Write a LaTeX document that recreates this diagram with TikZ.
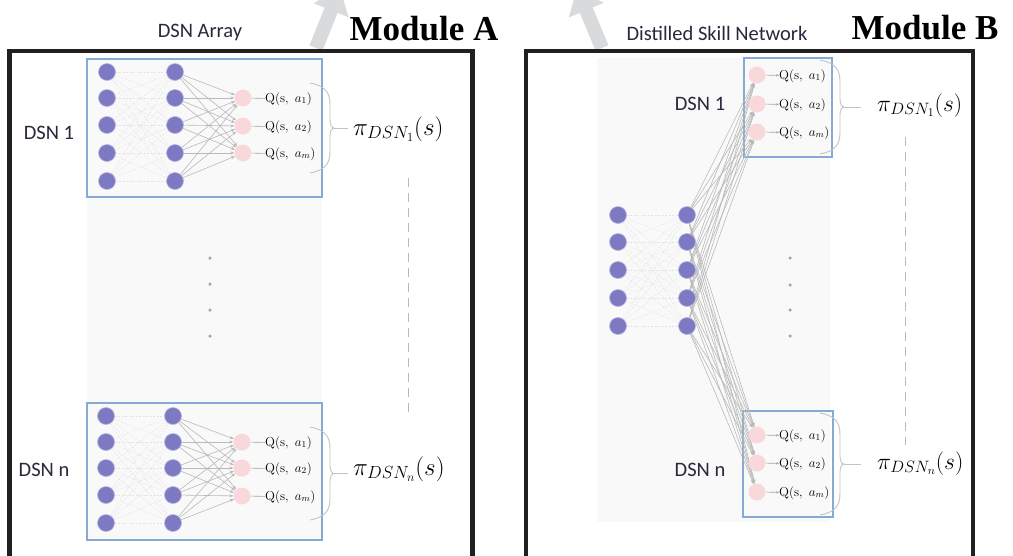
\RequirePackage{fix-cm}
\documentclass[tikz,border=0pt]{standalone}
\usepackage{fontspec}
\newfontfamily\labelfont{Carlito}
\newfontfamily\titlefont{Liberation Serif}
\usetikzlibrary{arrows.meta}

\definecolor{neuron}{RGB}{125,122,195}
\definecolor{outneuron}{RGB}{249,216,220}
\definecolor{boxblue}{RGB}{135,170,212}
\definecolor{framegray}{RGB}{34,31,32}
\definecolor{bracegray}{RGB}{190,196,202}
\definecolor{bggray}{RGB}{249,249,249}
\definecolor{arrowgray}{RGB}{216,218,220}
\definecolor{textdark}{RGB}{40,40,58}

\pgfdeclarelayer{back}
\pgfdeclarelayer{edges}
\pgfsetlayers{back,edges,main}

\tikzset{
  neuron/.style={circle,fill=neuron,draw=neuron!55!white,line width=0.6,minimum size=17,inner sep=0},
  outnode/.style={circle,fill=outneuron,minimum size=17,inner sep=0},
  netbox/.style={draw=boxblue,line width=1.2},
  outerframe/.style={draw=framegray,line width=4.5},
  faintedge/.style={draw=gray!22,line width=0.4,dash pattern=on 2 off 1.5},
  wire/.style={draw=gray!55,line width=0.6,-{Stealth[length=4,width=3]}},
  qlabel/.style={anchor=base west,inner sep=0,font=\fontsize{13}{15}\selectfont},
  qlink/.style={draw=gray!70,line width=0.6},
  qarrow/.style={draw=gray!70,line width=0.6,-{Stealth[length=3,width=2.5]}},
  bracepath/.style={draw=bracegray,line width=0.9},
  policyA/.style={anchor=base west,inner sep=0,font=\fontsize{25}{29}\selectfont},
  policyB/.style={anchor=base west,inner sep=0,font=\fontsize{23.5}{27}\selectfont},
  dsnlabel/.style={font=\labelfont\fontsize{20.5}{24}\selectfont,text=textdark},
  modlabel/.style={anchor=base,inner sep=0,font=\titlefont\bfseries\fontsize{35}{40}\selectfont},
  bigarrow/.style={draw=arrowgray,line width=14,-{Triangle[length=24,width=36]}},
  vdash/.style={draw=gray!55,line width=0.7,dash pattern=on 9 off 6},
  vdot/.style={circle,fill=gray!70,minimum size=3.5,inner sep=0},
}

% rounded curly brace: x, top y, bottom y, name of its tip
\newcommand{\roundbrace}[4]{%
  \pgfmathsetmacro{\bracemid}{(#2+#3)/2}
  \draw[bracepath] (#1,#2) .. controls (#1+16,#2+3) and (#1+20,#2+10) .. (#1+20,#2+22)
    -- (#1+20,\bracemid-8) .. controls (#1+20,\bracemid-3) and (#1+22,\bracemid) .. (#1+24,\bracemid)
    .. controls (#1+22,\bracemid) and (#1+20,\bracemid+3) .. (#1+20,\bracemid+8)
    -- (#1+20,#3-22) .. controls (#1+20,#3-10) and (#1+16,#3-3) .. (#1,#3);
  \coordinate (#4) at (#1+24,\bracemid);
}

\begin{document}
\begin{tikzpicture}[x=1pt,y=-1pt]
\useasboundingbox (0,0) rectangle (1013,555);

\begin{pgfonlayer}{back}
  \fill[white] (0,0) rectangle (1013,555);
  \fill[bggray] (87,59) rectangle (322,540);
  \fill[bggray] (597,58) rectangle (830,522);
  \draw[netbox] (87,59) rectangle (322,197);
  \draw[netbox] (87,403) rectangle (322,540);
  \draw[netbox] (744,58) rectangle (832,157);
  \draw[netbox] (743,411) rectangle (833,517);
\end{pgfonlayer}

% outer frames and the two grey pointers
\begin{scope}
  \clip (0,0) rectangle (1013,555);
  \draw[bigarrow] (316,48) -- (340,-12);
  \draw[bigarrow] (602,48) -- (577,-12);
  \draw[outerframe] (9.5,51) rectangle (472.5,580);
  \draw[outerframe] (526,51) rectangle (973,580);
\end{scope}

% titles
\node[dsnlabel,anchor=base] (arrayTitle) at (200,37) {DSN Array};
\node[modlabel] (modA) at (424,40) {Module A};
\node[dsnlabel,anchor=base] (distTitle) at (717,40) {Distilled Skill Network};
\node[modlabel] (modB) at (925,39) {Module B};

% ---------------- Module A: array of DSNs ----------------
\node[dsnlabel] (dsnA1) at (49,133) {DSN 1};
\node[dsnlabel] (dsnAn) at (44,470) {DSN n};

% DSN 1
\foreach \i/\y in {1/72,2/98,3/125,4/153,5/181}{
  \node[neuron] (ta\i) at (107,\y) {};
  \node[neuron] (tb\i) at (175,\y) {};
}
\foreach \j/\y in {1/98,2/126,3/153}{
  \node[outnode] (tq\j) at (243,\y) {};
}
\node[qlabel] (tl1) at (265,102) {$\mathrm{Q}(\mathrm{s}, \ a_1)$};
\node[qlabel] (tl2) at (265,130) {$\mathrm{Q}(\mathrm{s}, \ a_2)$};
\node[qlabel] (tl3) at (265,157) {$\mathrm{Q}(\mathrm{s}, \ a_m)$};

% DSN n
\foreach \i/\y in {1/416,2/442,3/468,4/495,5/523}{
  \node[neuron] (ba\i) at (106,\y) {};
  \node[neuron] (bb\i) at (173,\y) {};
}
\foreach \j/\y in {1/442,2/468,3/496}{
  \node[outnode] (bq\j) at (242,\y) {};
}
\node[qlabel] (bl1) at (265,446) {$\mathrm{Q}(\mathrm{s}, \ a_1)$};
\node[qlabel] (bl2) at (265,472) {$\mathrm{Q}(\mathrm{s}, \ a_2)$};
\node[qlabel] (bl3) at (265,500) {$\mathrm{Q}(\mathrm{s}, \ a_m)$};

\begin{pgfonlayer}{edges}
  \foreach \i in {1,...,5}{
    \foreach \k in {1,...,5}{
      \draw[faintedge] (ta\i) -- (tb\k);
      \draw[faintedge] (ba\i) -- (bb\k);
    }
    \foreach \j in {1,2,3}{
      \draw[wire] (tb\i) -- (tq\j);
      \draw[wire] (bb\i) -- (bq\j);
    }
  }
\end{pgfonlayer}
\foreach \j in {1,2,3}{
  \draw[qlink] (tq\j) -- (tl\j);
  \draw[qlink] (bq\j) -- (bl\j);
}

% policies of module A
\roundbrace{310}{83}{173}{tbr}
\roundbrace{310}{427}{520}{bbr}
\node[policyA] (tpi) at (353,135) {$\pi_{DSN_1}(s)$};
\node[policyA] (bpi) at (353,475) {$\pi_{DSN_n}(s)$};
\draw[bracepath,shorten >=5] (tbr) -- (tbr -| tpi.west);
\draw[bracepath,shorten >=5] (bbr) -- (bbr -| bpi.west);

\coordinate (avt) at (408,178);
\coordinate (avb) at (408,418);
\draw[vdash] (avt) -- (avb);
\foreach \k/\y in {1/258,2/284,3/310,4/336}{
  \node[vdot] (adot\k) at (210,\y) {};
}

% ---------------- Module B: distilled skill network ----------------
\node[dsnlabel] (dsnB1) at (700,104) {DSN 1};
\node[dsnlabel] (dsnBn) at (700,470) {DSN n};

\foreach \i/\y in {1/215,2/242,3/270,4/298,5/326}{
  \node[neuron] (sa\i) at (618,\y) {};
  \node[neuron] (sb\i) at (687,\y) {};
}
\foreach \j/\y in {1/75,2/104,3/132}{
  \node[outnode] (rt\j) at (757,\y) {};
}
\foreach \j/\y in {1/435,2/463,3/492}{
  \node[outnode] (rb\j) at (757,\y) {};
}
\node[qlabel] (rtl1) at (779,79) {$\mathrm{Q}(\mathrm{s}, \ a_1)$};
\node[qlabel] (rtl2) at (779,108) {$\mathrm{Q}(\mathrm{s}, \ a_2)$};
\node[qlabel] (rtl3) at (779,136) {$\mathrm{Q}(\mathrm{s}, \ a_m)$};
\node[qlabel] (rbl1) at (779,439) {$\mathrm{Q}(\mathrm{s}, \ a_1)$};
\node[qlabel] (rbl2) at (779,467) {$\mathrm{Q}(\mathrm{s}, \ a_2)$};
\node[qlabel] (rbl3) at (779,496) {$\mathrm{Q}(\mathrm{s}, \ a_m)$};

\begin{pgfonlayer}{edges}
  \foreach \i in {1,...,5}{
    \foreach \k in {1,...,5}{
      \draw[faintedge] (sa\i) -- (sb\k);
    }
    \foreach \j in {1,2,3}{
      \draw[wire] (sb\i) -- (rt\j);
      \draw[wire] (sb\i) -- (rb\j);
    }
  }
\end{pgfonlayer}
\foreach \j in {1,2,3}{
  \draw[qarrow] (rt\j) -- (rtl\j);
  \draw[qarrow] (rb\j) -- (rbl\j);
}

\roundbrace{820}{60}{154}{rtbr}
\roundbrace{820}{413}{515}{rbbr}
\node[policyB] (rtpi) at (877,111) {$\pi_{DSN_1}(s)$};
\node[policyB] (rbpi) at (877,469) {$\pi_{DSN_n}(s)$};
\draw[bracepath,shorten >=16] (rtbr) -- (rtbr -| rtpi.west);
\draw[bracepath,shorten >=16] (rbbr) -- (rbbr -| rbpi.west);

\coordinate (bvt) at (905,137);
\coordinate (bvb) at (905,445);
\draw[vdash] (bvt) -- (bvb);
\foreach \k/\y in {1/258,2/285,3/310,4/336}{
  \node[vdot] (bdot\k) at (790,\y) {};
}
\end{tikzpicture}
\end{document}
